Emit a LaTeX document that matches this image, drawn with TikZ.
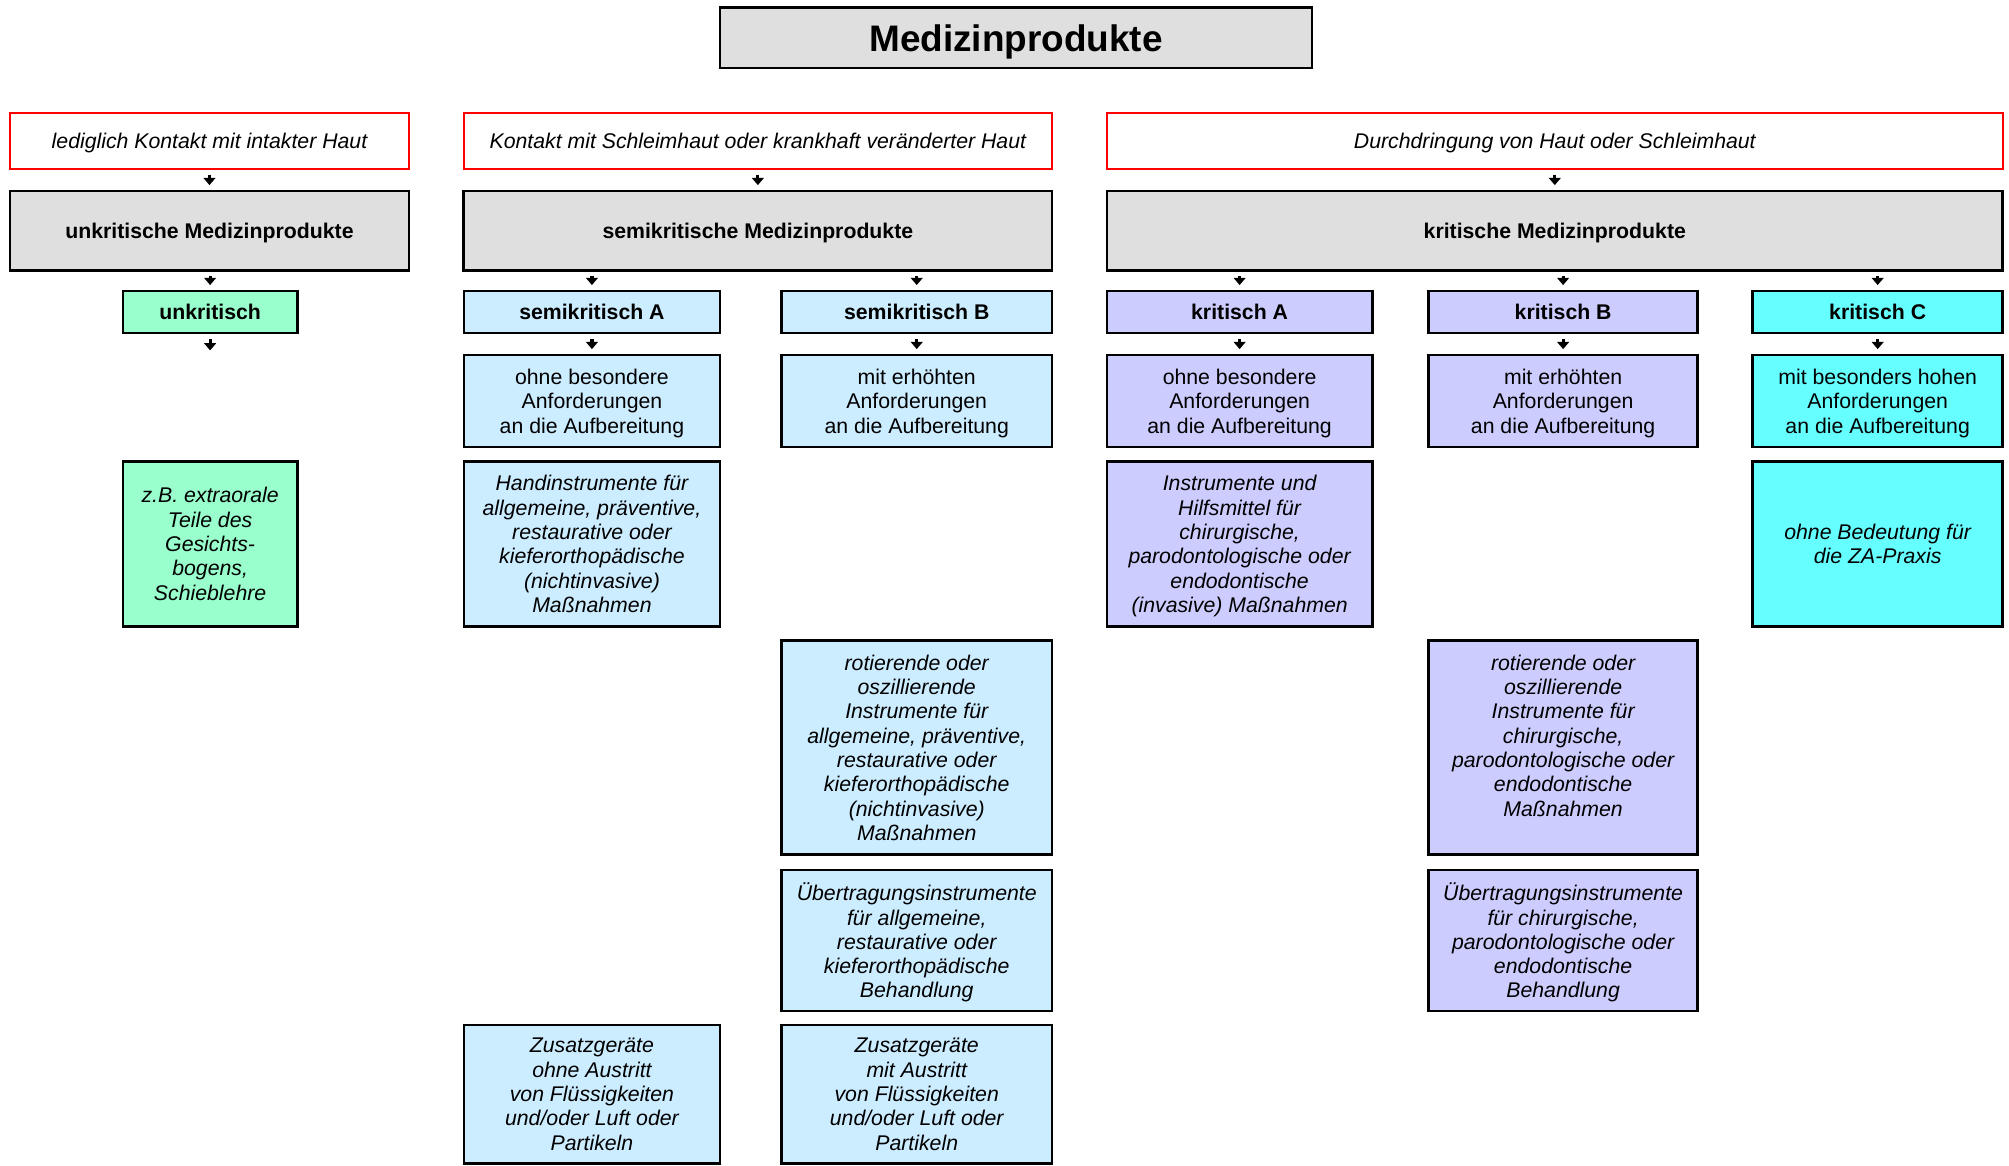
\documentclass[tikz,border=0pt]{standalone}
\usepackage{fontspec}
\setmainfont{Liberation Sans}
\usetikzlibrary{arrows.meta}
\definecolor{grau}{HTML}{DFDFDF}
\definecolor{gruen}{HTML}{99FFCC}
\definecolor{hblau}{HTML}{CCECFF}
\definecolor{lila}{HTML}{CCCCFF}
\definecolor{tuerkis}{HTML}{66FFFF}
\newcommand{\grund}{\fontsize{11.8}{13.5}\selectfont}

\begin{document}
\begin{tikzpicture}[x=0.025cm, y=-0.025cm,
  every node/.style={font=\grund, align=center, inner sep=2pt, text depth=0pt},
  box/.style={draw=black, line width=1.4pt, fill=#1},
  rot/.style={draw=red, line width=1.2pt, fill=white, font=\grund\itshape, minimum height=1.1cm},
  fett/.style={font=\grund\bfseries},
  kursiv/.style={font=\grund\itshape},
  z2/.style={minimum height=1.55cm}, z3/.style={minimum height=0.825cm},
  z4/.style={minimum height=1.8cm}, z5/.style={minimum height=3.225cm},
  z6/.style={minimum height=4.175cm}, z7/.style={minimum height=2.75cm},
  z8/.style={minimum height=2.7cm},
  pfeil/.style={-{Triangle[width=6.5pt,length=4pt]}, line width=1.8pt, shorten <=2.5pt, shorten >=2.5pt}]
\useasboundingbox (0,0) rectangle (1568,910);

\node[box=grau, minimum width=11.55cm, minimum height=1.175cm, font=\fontsize{20.5}{24}\selectfont\bfseries] (titel) at (793,29.5) {Medizinprodukte};

% Kontakt
\node[rot, minimum width=7.775cm] (haut) at (163.5,110) {lediglich Kontakt mit intakter Haut};
\node[rot, minimum width=11.475cm] (schleim) at (591.5,110) {Kontakt mit Schleimhaut oder krankhaft veränderter Haut};
\node[rot, minimum width=17.475cm] (durch) at (1213.5,110) {Durchdringung von Haut oder Schleimhaut};

% Gruppen
\node[box=grau, z2, fett, minimum width=7.775cm] (unkr) at (163.5,180) {unkritische Medizinprodukte};
\node[box=grau, z2, fett, minimum width=11.475cm] (semi) at (591.5,180) {semikritische Medizinprodukte};
\node[box=grau, z2, fett, minimum width=17.475cm] (krit) at (1213.5,180) {kritische Medizinprodukte};

% Einstufung
\node[box=gruen, z3, fett, minimum width=3.4cm] (uk) at (164,243.5) {unkritisch};
\node[box=hblau, z3, fett, minimum width=5cm] (sA) at (462,243.5) {semikritisch A};
\node[box=hblau, z3, fett, minimum width=5.275cm] (sB) at (715.5,243.5) {semikritisch B};
\node[box=lila, z3, fett, minimum width=5.175cm] (kA) at (967.5,243.5) {kritisch A};
\node[box=lila, z3, fett, minimum width=5.25cm] (kB) at (1220,243.5) {kritisch B};
\node[box=tuerkis, z3, fett, minimum width=4.875cm] (kC) at (1465.5,243.5) {kritisch C};
\coordinate (uk1) at (164,277);

% Anforderungen
\node[box=hblau, z4, minimum width=5cm] (sA1) at (462,313) {ohne besondere\\Anforderungen\\an die Aufbereitung};
\node[box=hblau, z4, minimum width=5.275cm] (sB1) at (715.5,313) {mit erhöhten\\Anforderungen\\an die Aufbereitung};
\node[box=lila, z4, minimum width=5.175cm] (kA1) at (967.5,313) {ohne besondere\\Anforderungen\\an die Aufbereitung};
\node[box=lila, z4, minimum width=5.25cm] (kB1) at (1220,313) {mit erhöhten\\Anforderungen\\an die Aufbereitung};
\node[box=tuerkis, z4, minimum width=4.875cm] (kC1) at (1465.5,313) {mit besonders hohen\\Anforderungen\\an die Aufbereitung};

% Beispiele
\node[box=gruen, z5, kursiv, minimum width=3.4cm] (uk2) at (164,424.5) {z.B. extraorale\\Teile des\\Gesichts-\\bogens,\\Schieblehre};
\node[box=hblau, z5, kursiv, minimum width=5cm] (sA2) at (462,424.5) {Handinstrumente für\\allgemeine, präventive,\\restaurative oder\\kieferorthopädische\\(nichtinvasive)\\Maßnahmen};
\node[box=lila, z5, kursiv, minimum width=5.175cm] (kA2) at (967.5,424.5) {Instrumente und\\Hilfsmittel für\\chirurgische,\\parodontologische oder\\endodontische\\(invasive) Maßnahmen};
\node[box=tuerkis, z5, kursiv, minimum width=4.875cm] (kC2) at (1465.5,424.5) {ohne Bedeutung für\\die ZA-Praxis};

\node[box=hblau, z6, kursiv, minimum width=5.275cm] (sB3) at (715.5,583.5) {rotierende oder\\oszillierende\\Instrumente für\\allgemeine, präventive,\\restaurative oder\\kieferorthopädische\\(nichtinvasive)\\Maßnahmen};
\node[box=lila, z6, kursiv, minimum width=5.25cm] (kB3) at (1220,583.5) {rotierende oder\\oszillierende\\Instrumente für\\chirurgische,\\parodontologische oder\\endodontische\\Maßnahmen\\\mbox{}};

\node[box=hblau, z7, kursiv, minimum width=5.275cm] (sB4) at (715.5,734) {Übertragungsinstrumente\\für allgemeine,\\restaurative oder\\kieferorthopädische\\Behandlung};
\node[box=lila, z7, kursiv, minimum width=5.25cm] (kB4) at (1220,734) {Übertragungsinstrumente\\für chirurgische,\\parodontologische oder\\endodontische\\Behandlung};

\node[box=hblau, z8, kursiv, minimum width=5cm] (sA5) at (462,854) {Zusatzgeräte\\ohne Austritt\\von Flüssigkeiten\\und/oder Luft oder\\Partikeln};
\node[box=hblau, z8, kursiv, minimum width=5.275cm] (sB5) at (715.5,854) {Zusatzgeräte\\mit Austritt\\von Flüssigkeiten\\und/oder Luft oder\\Partikeln};

% Pfeile
\foreach \a/\b in {haut/unkr, schleim/semi, durch/krit}
  \draw[pfeil] (\a.south) -- (\b.north);
\foreach \a/\b in {unkr/uk, semi/sA, semi/sB, krit/kA, krit/kB, krit/kC}
  \draw[pfeil] (\b |- \a.south) -- (\b.north);
\foreach \b in {uk, sA, sB, kA, kB, kC}
  \draw[pfeil] (\b.south) -- (\b1);
\end{tikzpicture}
\end{document}
